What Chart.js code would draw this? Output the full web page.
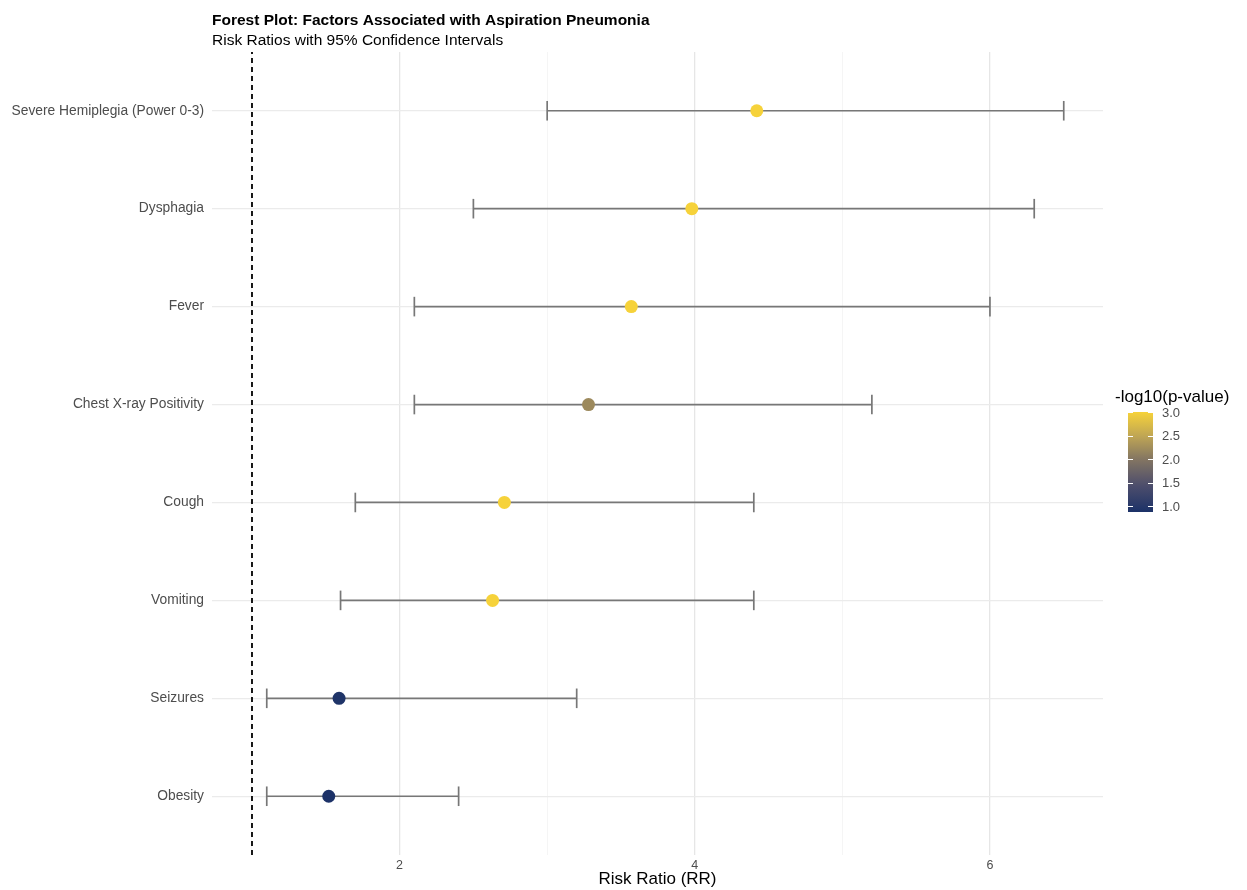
<!DOCTYPE html>
<html>
<head>
<meta charset="utf-8">
<script src="https://cdn.jsdelivr.net/npm/chart.js@4.4.1/dist/chart.umd.min.js"></script>
<style>
  html, body { margin: 0; padding: 0; background: #fff; }
  #wrap { width: 1247px; height: 890px; }
</style>
</head>
<body>
<div id="wrap"><canvas id="forest"></canvas></div>
<script>
// data, bottom row first
const factors = ["Obesity", "Seizures", "Vomiting", "Cough", "Chest X-ray Positivity", "Fever", "Dysphagia", "Severe Hemiplegia (Power 0-3)"];
const rr      = [1.52, 1.59, 2.63, 2.71, 3.28, 3.57, 3.98, 4.42];
const lower   = [1.10, 1.10, 1.60, 1.70, 2.10, 2.10, 2.50, 3.00];
const upper   = [2.40, 3.20, 4.40, 4.40, 5.20, 6.00, 6.30, 6.50];
const negLogP = [0.88, 0.92, 3.00, 3.00, 2.20, 3.00, 3.00, 3.00];
const refLine = 1;
const xTicks = [2, 4, 6];
const pTicks = [1.0, 1.5, 2.0, 2.5, 3.0];

const FONT = "'Liberation Sans', Arial, sans-serif";
const pMin = Math.min(...negLogP), pMax = Math.max(...negLogP);

// navy -> gold ramp
const stops = [
  [0.00, [28, 50, 104]],
  [0.27, [78, 78, 108]],
  [0.53, [132, 118, 98]],
  [0.76, [192, 166, 84]],
  [1.00, [246, 210, 58]]
];
function rampColor(v) {
  const t = Math.max(0, Math.min(1, (v - pMin) / (pMax - pMin)));
  for (let i = 1; i < stops.length; i++) {
    if (t <= stops[i][0]) {
      const [t0, c0] = stops[i - 1], [t1, c1] = stops[i];
      const f = (t - t0) / (t1 - t0);
      const c = c0.map((a, k) => Math.round(a + (c1[k] - a) * f));
      return `rgb(${c[0]},${c[1]},${c[2]})`;
    }
  }
  const c = stops[stops.length - 1][1];
  return `rgb(${c[0]},${c[1]},${c[2]})`;
}

const yPos = factors.map((_, i) => i + 1);
const CAP = 0.1;
const barColor = "#777777";

const datasets = [];
factors.forEach((f, i) => {
  const y = yPos[i];
  const seg = (data) => ({
    type: "line", data, borderColor: barColor, borderWidth: 1.7,
    pointRadius: 0, fill: false, order: 2
  });
  datasets.push(seg([{ x: lower[i], y }, { x: upper[i], y }]));
  datasets.push(seg([{ x: lower[i], y: y - CAP }, { x: lower[i], y: y + CAP }]));
  datasets.push(seg([{ x: upper[i], y: y - CAP }, { x: upper[i], y: y + CAP }]));
});
datasets.push({
  type: "scatter",
  data: factors.map((_, i) => ({ x: rr[i], y: yPos[i] })),
  pointBackgroundColor: negLogP.map(rampColor),
  pointBorderWidth: 0,
  pointRadius: 6.5,
  order: 0
});
datasets.push({
  type: "line",
  data: [{ x: refLine, y: 0.4 }, { x: refLine, y: factors.length + 0.6 }],
  borderColor: "#000", borderWidth: 1.8, borderDash: [5, 4],
  pointRadius: 0, order: 3
});

const headerAndLegend = {
  id: "headerAndLegend",
  afterDraw(chart) {
    const { ctx, chartArea } = chart;
    ctx.save();
    ctx.textBaseline = "alphabetic";
    ctx.textAlign = "left";
    ctx.fillStyle = "#000";
    ctx.font = `bold 15.5px ${FONT}`;
    ctx.fillText("Forest Plot: Factors Associated with Aspiration Pneumonia", chartArea.left, 25);
    ctx.font = `15.5px ${FONT}`;
    ctx.fillText("Risk Ratios with 95% Confidence Intervals", chartArea.left, 45);

    // colour bar
    const bx = chartArea.right + 25, bw = 25, bTop = 412, bBot = 512;
    const yOf = v => bBot - (v - pMin) / (pMax - pMin) * (bBot - bTop);
    const g = ctx.createLinearGradient(0, bBot, 0, bTop);
    for (let k = 0; k <= 20; k++) {
      const v = pMin + (pMax - pMin) * k / 20;
      g.addColorStop(k / 20, rampColor(v));
    }
    ctx.fillStyle = g;
    ctx.fillRect(bx, bTop, bw, bBot - bTop);
    ctx.strokeStyle = "#fff";
    ctx.lineWidth = 1;
    ctx.fillStyle = "#4d4d4d";
    ctx.font = `13px ${FONT}`;
    ctx.textBaseline = "middle";
    pTicks.forEach(v => {
      const y = Math.round(yOf(v)) + 0.5;
      ctx.beginPath();
      ctx.moveTo(bx, y); ctx.lineTo(bx + 5, y);
      ctx.moveTo(bx + bw - 5, y); ctx.lineTo(bx + bw, y);
      ctx.stroke();
      ctx.fillText(v.toFixed(1), bx + bw + 9, yOf(v) + 1);
    });
    ctx.fillStyle = "#000";
    ctx.font = `17px ${FONT}`;
    ctx.textBaseline = "alphabetic";
    ctx.fillText("-log10(p-value)", bx - 13, 402);
    ctx.restore();
  }
};

new Chart(document.getElementById("forest"), {
  data: { datasets },
  options: {
    responsive: true,
    maintainAspectRatio: false,
    animation: false,
    layout: { padding: { top: 52, right: 144, left: 0, bottom: 0 } },
    plugins: { legend: { display: false }, tooltip: { enabled: false }, title: { display: false } },
    scales: {
      x: {
        type: "linear", min: 0.729, max: 6.766,
        border: { display: false },
        grid: {
          drawTicks: false,
          color: c => xTicks.includes(c.tick.value) ? "#e6e6e6" : "#f2f2f2",
          lineWidth: c => xTicks.includes(c.tick.value) ? 1.3 : 0.8
        },
        ticks: {
          stepSize: 1, includeBounds: false, autoSkip: false, maxRotation: 0,
          padding: 3, color: "#4d4d4d", font: { family: FONT, size: 12.5 },
          callback: v => xTicks.includes(v) ? String(v) : ""
        },
        title: {
          display: true, text: "Risk Ratio (RR)", color: "#000",
          font: { family: FONT, size: 17 }, padding: { top: 0, bottom: 0 }
        },
        afterFit: s => { s.height = 35; }
      },
      y: {
        type: "linear", min: 0.4, max: factors.length + 0.6,
        border: { display: false },
        grid: { drawTicks: false, color: "#ebebeb", lineWidth: 1.2 },
        ticks: {
          stepSize: 1, includeBounds: false, autoSkip: false,
          padding: 8, color: "#4d4d4d", font: { family: FONT, size: 13.8 },
          callback: v => factors[v - 1] ?? ""
        },
        afterFit: s => { s.width = 212; }
      }
    }
  },
  plugins: [headerAndLegend]
});
</script>
</body>
</html>
